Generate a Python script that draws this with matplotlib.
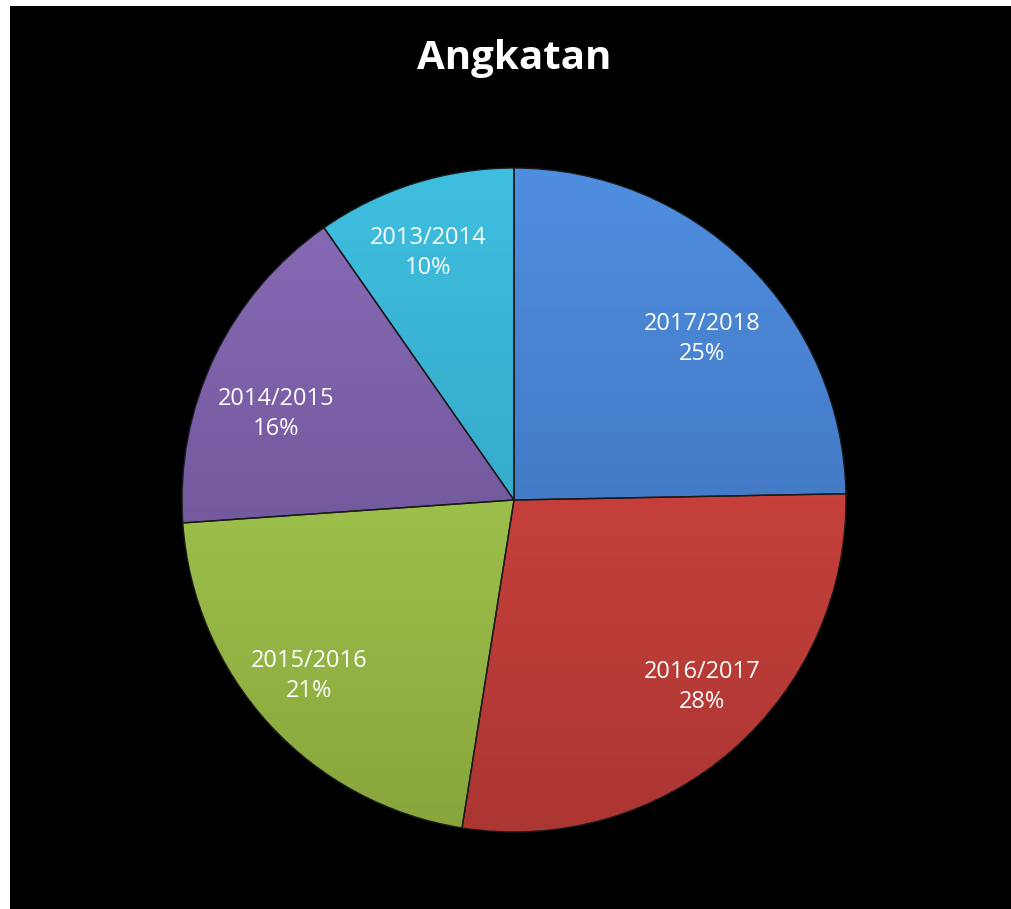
import matplotlib.pyplot as plt
import matplotlib.colors as mcolors
import matplotlib.transforms as mtransforms
import numpy as np

plt.rcParams['font.family'] = ['Open Sans', 'DejaVu Sans']

# data, clockwise from 12 o'clock
years = ['2017/2018', '2016/2017', '2015/2016', '2014/2015', '2013/2014']
shares = [24.7, 27.8, 21.4, 16.4, 9.7]
top_colors = ['#4f8ee0', '#e04a44', '#b2d85a', '#8a6cb8', '#3fbfe0']
bottom_colors = ['#3a68ad', '#ab3632', '#88a63c', '#5f4987', '#2d97b5']
# small pixel nudges so labels sit where the original "best fit" put them
label_nudge = [(7, -24), (18, 8), (-14, -1), (-4, -26), (-8, 0)]

fig = plt.figure(figsize=(10.11, 9.09), dpi=100, facecolor='white')
# black chart area inside a thin white margin
fig.patches.append(plt.Rectangle((10 / 1011, 0), 1 - 10 / 1011, 1 - 6 / 909,
                                 transform=fig.transFigure, facecolor='black',
                                 edgecolor='none', zorder=-5))

r_px = 332
cx, cy = 514, 909 - 500
ax = fig.add_axes([(cx - r_px) / 1011, (cy - r_px) / 909, 2 * r_px / 1011, 2 * r_px / 909])
ax.set_facecolor('none')

labels = [f'{y}\n{round(s)}%' for y, s in zip(years, shares)]
wedges, texts = ax.pie(shares, labels=labels, startangle=90, counterclock=False,
                       colors=top_colors, radius=1, labeldistance=0.78,
                       wedgeprops=dict(edgecolor='#1a1a1a', linewidth=1.0),
                       textprops=dict(color='white', fontsize=17, ha='center', va='center',
                                      linespacing=1.35))
for t, (dx, dy) in zip(texts, label_nudge):
    t.set_horizontalalignment('center')
    t.set_transform(t.get_transform() +
                    mtransforms.ScaledTranslation(dx / 100, dy / 100, fig.dpi_scale_trans))
    t.set_zorder(5)

# vertical light-to-dark gradient inside each slice
for w, c1, c2 in zip(wedges, top_colors, bottom_colors):
    cmap = mcolors.LinearSegmentedColormap.from_list('g', [c2, c1])
    grad = np.linspace(0, 1, 256).reshape(-1, 1)
    im = ax.imshow(grad, cmap=cmap, extent=(-1, 1, -1, 1), origin='lower',
                   aspect='auto', zorder=w.get_zorder() + 0.1)
    im.set_clip_path(w)
    w.set_facecolor('none')
    w.set_zorder(w.get_zorder() + 0.2)

ax.set_xlim(-1, 1)
ax.set_ylim(-1, 1)
ax.set_aspect('equal')
ax.axis('off')

fig.text(514 / 1011, 1 - 58 / 909, 'Angkatan', color='white', fontsize=29,
         fontweight='bold', ha='center', va='center')

fig.savefig('out.png', dpi=100, facecolor='white')
